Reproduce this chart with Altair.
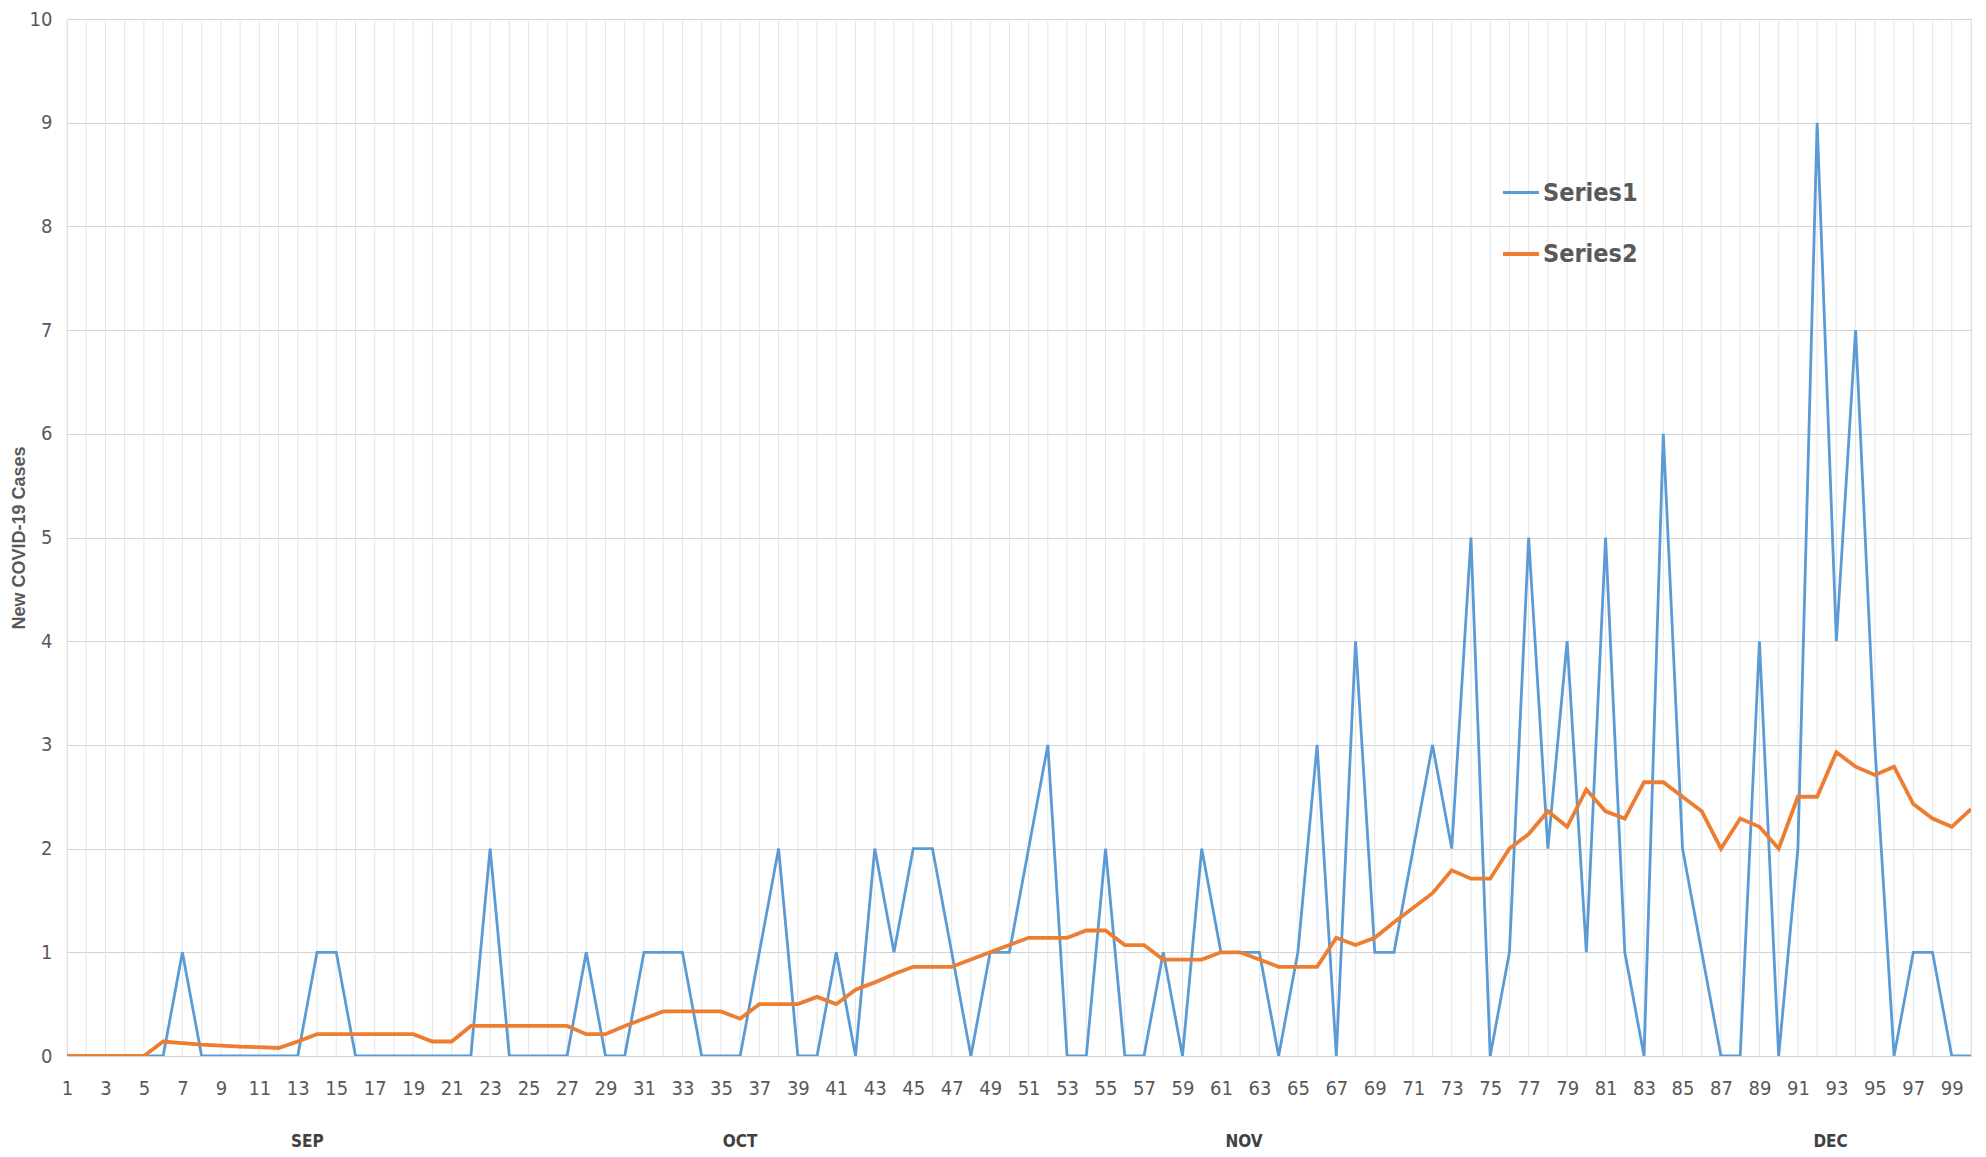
import altair as alt
import pandas as pd

days = list(range(1, 101))

series1 = [
    0, 0, 0, 0, 0, 0, 1, 0, 0, 0,
    0, 0, 0, 1, 1, 0, 0, 0, 0, 0,
    0, 0, 2, 0, 0, 0, 0, 1, 0, 0,
    1, 1, 1, 0, 0, 0, 1, 2, 0, 0,
    1, 0, 2, 1, 2, 2, 1, 0, 1, 1,
    2, 3, 0, 0, 2, 0, 0, 1, 0, 2,
    1, 1, 1, 0, 1, 3, 0, 4, 1, 1,
    2, 3, 2, 5, 0, 1, 5, 2, 4, 1,
    5, 1, 0, 6, 2, 1, 0, 0, 4, 0,
    2, 9, 4, 7, 3, 0, 1, 1, 0, 0,
]

series2 = [
    0, 0, 0, 0, 0, 0.14, 0.125, 0.11, 0.10, 0.09,
    0.085, 0.077, 0.14, 0.21, 0.21, 0.21, 0.21, 0.21, 0.21, 0.14,
    0.14, 0.29, 0.29, 0.29, 0.29, 0.29, 0.29, 0.21, 0.21, 0.29,
    0.36, 0.43, 0.43, 0.43, 0.43, 0.36, 0.50, 0.50, 0.50, 0.57,
    0.50, 0.64, 0.71, 0.79, 0.86, 0.86, 0.86, 0.93, 1.00, 1.07,
    1.14, 1.14, 1.14, 1.21, 1.21, 1.07, 1.07, 0.93, 0.93, 0.93,
    1.00, 1.00, 0.93, 0.86, 0.86, 0.86, 1.14, 1.07, 1.14, 1.29,
    1.43, 1.57, 1.79, 1.71, 1.71, 2.00, 2.14, 2.36, 2.21, 2.57,
    2.36, 2.29, 2.64, 2.64, 2.50, 2.36, 2.00, 2.29, 2.21, 2.00,
    2.50, 2.50, 2.93, 2.79, 2.71, 2.79, 2.43, 2.29, 2.21, 2.38,
]

series_names = ["Series1", "Series2"]
series_colors = ["#5b9bd5", "#ed7d31"]
series_widths = [2.8, 3.8]

months = ["SEP", "OCT", "NOV", "DEC"]
month_pos = [13.5, 36.0, 62.2, 92.7]

x_label_ticks = list(range(1, 100, 2))
y_ticks = list(range(0, 11))

assert len(series1) == 100 and len(series2) == 100

df = pd.DataFrame({
    "day": days * 2,
    "value": series1 + series2,
    "series": ["Series1"] * 100 + ["Series2"] * 100,
})
mdf = pd.DataFrame({"month": months, "pos": month_pos})
gdf = pd.DataFrame({"day": days})

W, H = 1904, 1037
narrow = "Liberation Sans Narrow, DejaVu Sans Condensed, Roboto, sans-serif"

x_scale = alt.Scale(domain=[1, 100], nice=False, zero=False)
x_axis = alt.Axis(values=x_label_ticks, title=None,
                  labelFont=narrow, labelFontSize=20, labelColor="#595959",
                  labelPadding=22, ticks=False, domain=False,
                  grid=False, labelOverlap=False, labelFlush=False,
                  labelBound=False)

vgrid = alt.Chart(gdf).mark_rule(color="#e2e2e2", strokeWidth=0.9).encode(
    x=alt.X("day:Q", scale=x_scale, axis=x_axis),
)

lines = alt.Chart(df).mark_line(clip=True).encode(
    x=alt.X("day:Q", scale=x_scale, axis=x_axis),
    y=alt.Y("value:Q", scale=alt.Scale(domain=[0, 10], nice=False),
            axis=alt.Axis(values=y_ticks, title="New COVID-19 Cases",
                          titleFont="Liberation Sans", titleFontSize=18,
                          titleFontWeight="bold", titleColor="#595959",
                          titleAngle=270, titleX=-48, titleY=H / 2,
                          titleAlign="center", titleBaseline="middle",
                          labelFont=narrow, labelFontSize=20, labelColor="#595959",
                          labelPadding=15, ticks=False, domain=False,
                          grid=True, gridColor="#d4d4d4", gridWidth=1.2)),
    color=alt.Color("series:N",
                    scale=alt.Scale(domain=series_names, range=series_colors),
                    legend=alt.Legend(title=None, orient="none",
                                      legendX=1434, legendY=154,
                                      symbolType="stroke", symbolSize=1300,
                                      symbolStrokeWidth=3, rowPadding=28,
                                      labelFont=narrow, labelFontSize=25,
                                      labelFontWeight="bold", labelColor="#595959",
                                      labelOffset=2)),
    strokeWidth=alt.StrokeWidth("series:N",
                                scale=alt.Scale(domain=series_names, range=series_widths),
                                legend=None),
    order=alt.Order("day:Q"),
)

month_text = alt.Chart(mdf).mark_text(
    font=narrow, fontSize=17, fontWeight="bold", color="#404040",
    baseline="middle", align="center",
).encode(
    x=alt.X("pos:Q", scale=x_scale, axis=x_axis),
    y=alt.value(1123),
    text="month:N",
)

chart = alt.layer(vgrid, lines, month_text).properties(
    width=W, height=H,
    autosize=alt.AutoSizeParams(type="none"),
    padding={"left": 59, "top": 11, "right": 7, "bottom": 95},
).configure_view(
    fill="#e9e9e9", stroke=None
).configure(background="white")

chart.save("out.html", embed_options={"renderer": "svg", "actions": False})
